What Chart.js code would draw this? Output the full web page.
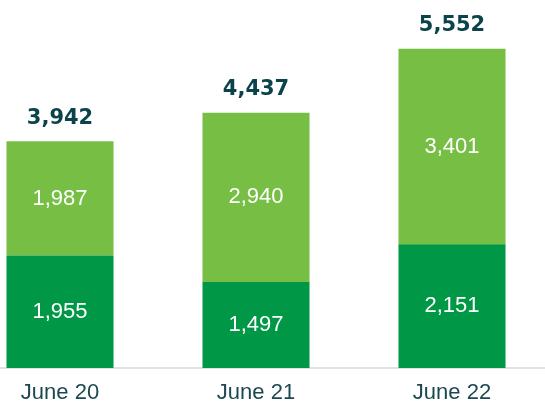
<!DOCTYPE html>
<html>
<head>
<meta charset="utf-8">
<script src="https://cdn.jsdelivr.net/npm/chart.js@4.4.0/dist/chart.umd.min.js"></script>
<style>
  html, body { margin: 0; padding: 0; background: #ffffff; overflow: hidden; width: 545px; height: 407px; }
  #wrap { position: absolute; left: -38px; top: 0; width: 588px; height: 407px; }
</style>
</head>
<body>
<div id="wrap"><canvas id="c" width="588" height="407"></canvas></div>
<script>
const categories = ["June 20", "June 21", "June 22"];
const bottomValues = [1955, 1497, 2151];
const topValues = [1987, 2940, 3401];
const totals = [3942, 4437, 5552];

const fmt = v => v.toLocaleString('en-US');

const labelPlugin = {
  id: 'labelPlugin',
  afterDatasetsDraw(chart) {
    const ctx = chart.ctx;
    ctx.save();
    ctx.textAlign = 'center';
    ctx.textBaseline = 'middle';
    chart.data.datasets.forEach((ds, di) => {
      const meta = chart.getDatasetMeta(di);
      meta.data.forEach((bar, i) => {
        const cy = (bar.y + bar.base) / 2;
        ctx.fillStyle = '#ffffff';
        ctx.font = '22px "Liberation Sans", Arial, sans-serif';
        ctx.fillText(fmt(ds.data[i]), bar.x, cy);
      });
    });
    const topMeta = chart.getDatasetMeta(1);
    topMeta.data.forEach((bar, i) => {
      ctx.fillStyle = '#0b434a';
      ctx.font = 'bold 21px "DejaVu Sans", "Liberation Sans", Arial, sans-serif';
      ctx.fillText(fmt(totals[i]), bar.x, bar.y - 23);
    });
    ctx.restore();
  }
};

new Chart(document.getElementById('c'), {
  type: 'bar',
  data: {
    labels: categories,
    datasets: [
      { label: 'Bottom', data: bottomValues, backgroundColor: '#009846', borderWidth: 0 },
      { label: 'Top', data: topValues, backgroundColor: '#76bf44', borderWidth: 0 }
    ]
  },
  options: {
    responsive: false,
    animation: false,
    devicePixelRatio: 1,
    layout: { padding: 0 },
    plugins: { legend: { display: false }, tooltip: { enabled: false } },
    datasets: { bar: { categoryPercentage: 1, barPercentage: 0.546 } },
    scales: {
      x: {
        stacked: true,
        grid: { display: false, drawTicks: false },
        border: { display: true, color: '#d9e5e9', width: 2 },
        ticks: {
          color: '#1d4850',
          font: { size: 22, family: '"Liberation Sans", Arial, sans-serif' },
          padding: 12
        },
        afterFit(scale) { scale.height = 39; }
      },
      y: {
        stacked: true,
        display: false,
        min: 0,
        max: 6400
      }
    }
  },
  plugins: [labelPlugin]
});
</script>
</body>
</html>
